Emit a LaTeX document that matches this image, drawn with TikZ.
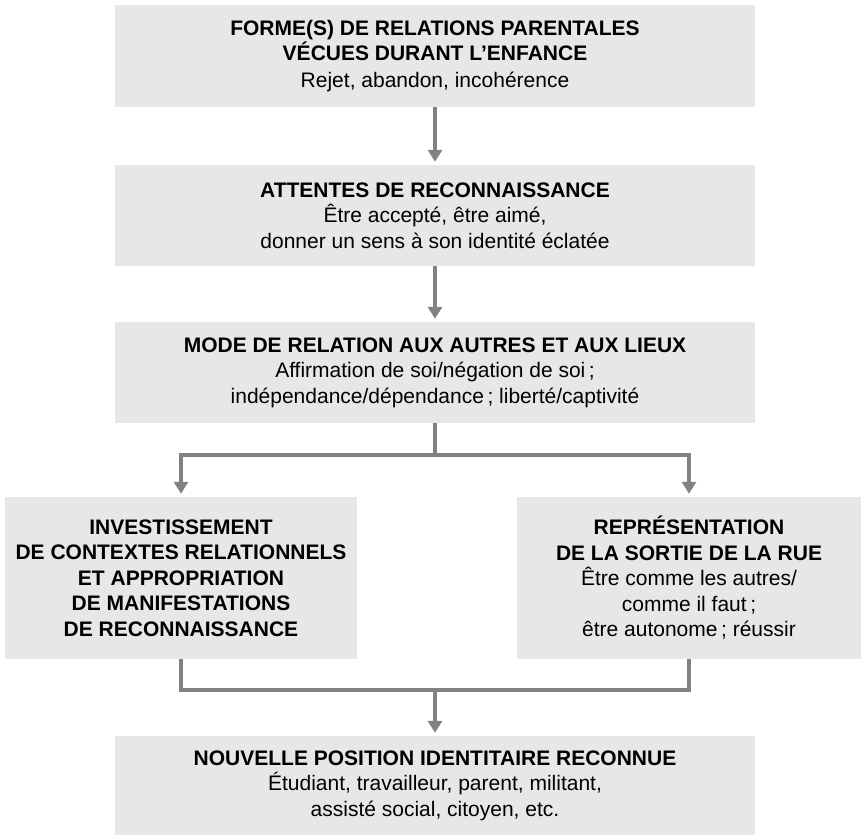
\documentclass[tikz,border=0pt]{standalone}
\usepackage{fontspec}
\setmainfont{Liberation Sans}
\usetikzlibrary{arrows.meta}
\definecolor{boxgray}{HTML}{E6E7E8}
\definecolor{linegray}{HTML}{808285}

\begin{document}
\begin{tikzpicture}[x=1pt,y=1pt,>={Triangle[length=12pt,width=14pt]},
  box/.style={fill=boxgray,align=center,inner sep=0pt,font=\fontsize{21}{25.5}\selectfont},
  link/.style={draw=linegray,line width=3.6pt}]
  \useasboundingbox (0,0) rectangle (861,-835);
  \node[box,minimum width=640,minimum height=102] at (435,-56) (forme) {\textbf{FORME(S) DE RELATIONS PARENTALES}\\\textbf{VÉCUES DURANT L’ENFANCE}\\[1pt]Rejet, abandon, incohérence};
  \node[box,minimum width=640,minimum height=101] at (435,-215.5) (attentes) {\textbf{ATTENTES DE RECONNAISSANCE}\\Être accepté, être aimé,\\donner un sens à son identité éclatée};
  \node[box,minimum width=640,minimum height=101] at (435,-372.5) (mode) {\textbf{MODE DE RELATION AUX AUTRES ET AUX LIEUX}\\Affirmation de soi/négation de soi\,;\\indépendance/dépendance\,; liberté/captivité};
  \node[box,minimum width=352,minimum height=162] at (181,-578) (invest) {\textbf{INVESTISSEMENT}\\\textbf{DE CONTEXTES RELATIONNELS}\\\textbf{ET APPROPRIATION}\\\textbf{DE MANIFESTATIONS}\\\textbf{DE RECONNAISSANCE}};
  \node[box,minimum width=344,minimum height=162] at (689,-578) (repres) {\textbf{REPRÉSENTATION}\\\textbf{DE LA SORTIE DE LA RUE}\\Être comme les autres/\\comme il faut\,;\\être autonome\,; réussir};
  \node[box,minimum width=640,minimum height=99] at (435,-785.5) (nouvelle) {\textbf{NOUVELLE POSITION IDENTITAIRE RECONNUE}\\Étudiant, travailleur, parent, militant,\\assisté social, citoyen, etc.};
  \coordinate (split) at (435,-455);
  \coordinate (join) at (435,-690);
  \draw[link,->,shorten >=3pt] (forme) -- (attentes);
  \draw[link,->,shorten >=3pt] (attentes) -- (mode);
  \draw[link] (mode) -- (split);
  \draw[link,->,shorten >=3pt] (split) -| (invest);
  \draw[link,->,shorten >=3pt] (split) -| (repres);
  \draw[link] (invest) |- (join);
  \draw[link] (repres) |- (join);
  \draw[link,->,shorten >=3pt] (join) -- (nouvelle);
\end{tikzpicture}
\end{document}
